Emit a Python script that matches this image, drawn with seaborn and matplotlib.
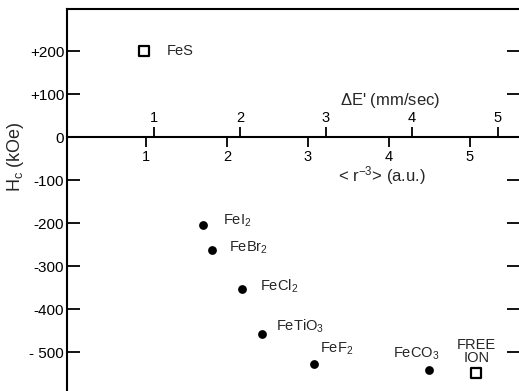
import matplotlib
matplotlib.use("Agg")
import matplotlib.pyplot as plt
import seaborn as sns
import pandas as pd

# ---- data (x in <r^-3> a.u., y = H_c in kOe) ----
dot_labels = ["FeI$_2$", "FeBr$_2$", "FeCl$_2$", "FeTiO$_3$", "FeF$_2$", "FeCO$_3$"]
dot_x = [1.71, 1.82, 2.18, 2.43, 3.08, 4.49]
dot_y = [-205, -263, -353, -458, -528, -542]

sq_labels = ["FeS", "FREE\nION"]
sq_x = [0.98, 5.08]
sq_y = [200, -547]

ytick_vals = [200, 100, 0, -100, -200, -300, -400, -500]
ytick_text = ["+200", "+100", "0", "-100", "-200", "-300", "-400", "- 500"]
r_ticks = [1, 2, 3, 4, 5]
e_ticks = [1, 2, 3, 4, 5]

sns.set_style("white")
plt.rcParams["font.family"] = ["Liberation Sans", "DejaVu Sans"]
plt.rcParams["mathtext.default"] = "regular"

W, H = 519, 391
fig = plt.figure(figsize=(W / 100, H / 100), dpi=100)
ax = fig.add_axes([67 / W, 0, (W - 67) / W, (H - 9) / H])

dots = pd.DataFrame({"x": dot_x, "y": dot_y, "name": dot_labels})
sqs = pd.DataFrame({"x": sq_x, "y": sq_y, "name": sq_labels})

sns.scatterplot(data=dots, x="x", y="y", ax=ax, color="black", s=40,
                marker="o", edgecolor="black", linewidth=0, zorder=3)
sns.scatterplot(data=sqs, x="x", y="y", ax=ax, s=50, marker="s",
                facecolor="white", edgecolor="black", linewidth=1.6, zorder=3)

ax.set_xlim(0.025, 5.605)
ax.set_ylim(-590, 298)

# label offsets (points)
dot_off = [(14, 3), (12, 2), (13, 2), (10, 6), (4, 11), (-9, 12)]
dot_ha = ["left", "left", "left", "left", "left", "center"]
for (nm, xx, yy), off, ha in zip(zip(dot_labels, dot_x, dot_y), dot_off, dot_ha):
    ax.annotate(nm, (xx, yy), xytext=off, textcoords="offset points",
                ha=ha, va="center", fontsize=10.5)
sq_off = [(16, 0), (0, 15)]
sq_ha = ["left", "center"]
for (nm, xx, yy), off, ha in zip(zip(sq_labels, sq_x, sq_y), sq_off, sq_ha):
    ax.annotate(nm, (xx, yy), xytext=off, textcoords="offset points",
                ha=ha, va="center", fontsize=10.5, linespacing=0.95)

# spines
for s in ["left", "top", "bottom"]:
    ax.spines[s].set_linewidth(1.5)
    ax.spines[s].set_color("black")
ax.spines["right"].set_visible(False)
ax.spines["bottom"].set_position(("data", 0))

# y ticks on both sides, inward
ax.set_yticks(ytick_vals)
ax.set_yticklabels(ytick_text)
ax.tick_params(axis="y", which="major", direction="in", length=9, width=1.3,
               left=True, right=True, labelsize=11, pad=2, colors="black")
ax.set_ylabel("H$_c$ (kOe)", fontsize=13)
ax.yaxis.set_label_coords(15 / W - 67 / W, (391 - 157) / (H - 9),
                          transform=None)
ax.yaxis.set_label_coords((15 - 67) / (W - 67), (391 - 157) / (H - 9))
ax.yaxis.label.set_va("center")

# <r^-3> scale: ticks downward, labels below
ax.set_xticks(r_ticks)
ax.set_xticklabels([str(t) for t in r_ticks])
ax.tick_params(axis="x", direction="out", length=7, width=1.3, labelsize=10.5,
               pad=2, colors="black", bottom=True, top=False)
ax.set_xlabel("< r$^{-3}$> (a.u.)", fontsize=12)
ax.xaxis.set_label_coords((382 - 67) / (W - 67), (391 - 176) / (H - 9))
ax.xaxis.label.set_va("center")

# Delta E' scale on the same line: ticks upward, labels above
def r2e(r):
    return (81 * r - 3) / 86

def e2r(e):
    return (86 * e + 3) / 81

loc = (0 - (-590)) / (298 - (-590))
sec = ax.secondary_xaxis(loc, functions=(r2e, e2r))
sec.set_xticks(e_ticks)
sec.set_xticklabels([str(t) for t in e_ticks])
sec.spines["top"].set_visible(False)
sec.spines["bottom"].set_visible(False)
sec.xaxis.set_ticks_position("top")
sec.tick_params(axis="x", direction="out", length=7, width=1.3, labelsize=10.5,
                pad=2, colors="black", top=True, bottom=False,
                labeltop=True, labelbottom=False)
sec.set_xlabel("$\\Delta$E' (mm/sec)", fontsize=12)
sec.xaxis.set_label_coords((390 - 67) / (W - 67), (391 - 100) / (H - 9),
                           transform=ax.transAxes)
sec.xaxis.label.set_va("center")

fig.savefig("out.png", dpi=100)
